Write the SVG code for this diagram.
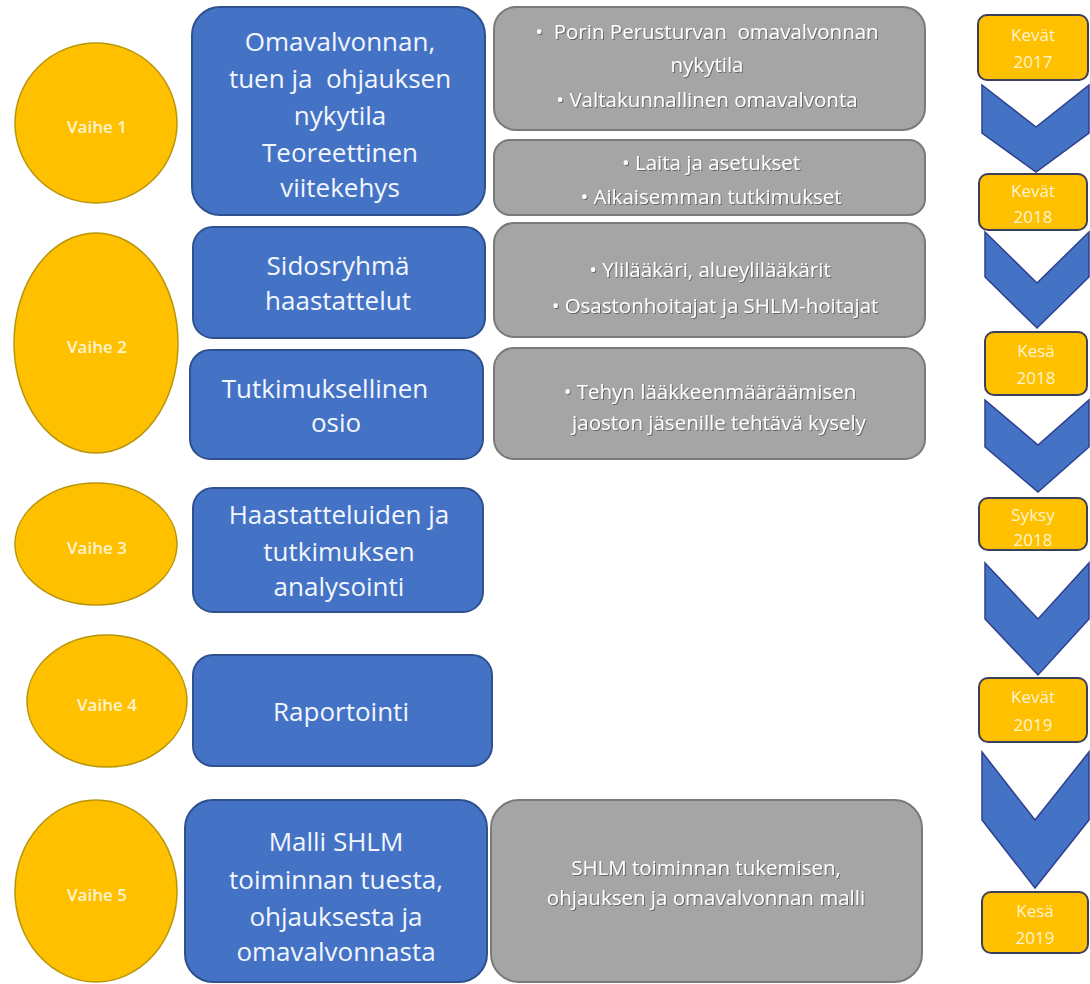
<svg xmlns="http://www.w3.org/2000/svg" width="1090" height="984" viewBox="0 0 1090 984">
<defs>
<style>
.circ{fill:#FFC000;stroke:#B8960A;stroke-width:1.5}
.ctxt{font-family:"Open Sans","Liberation Sans",sans-serif;font-size:17px;font-weight:600;fill:#FFF4D0;text-anchor:middle}
.blue{fill:#4472C4;stroke:#2F528F;stroke-width:2}
.btxt{font-family:"Open Sans","Liberation Sans",sans-serif;font-size:26px;fill:#F2F6FF;text-anchor:middle}
.gray{fill:#A5A5A5;stroke:#7A7A7A;stroke-width:2}
.gtxt{font-family:"Open Sans","Liberation Sans",sans-serif;font-size:20.5px;fill:#FFFFFF;text-anchor:middle;filter:url(#sh)}
.tl{fill:#FFC000;stroke:#3A3F5C;stroke-width:2}
.ttxt{font-family:"Open Sans","Liberation Sans",sans-serif;font-size:17px;fill:#FFF4D0;text-anchor:middle}
.chev{fill:#4472C4;stroke:#2F3F8F;stroke-width:1.5}
</style>
<filter id="sh" x="-5%" y="-20%" width="110%" height="140%"><feDropShadow dx="1" dy="1" stdDeviation="0.6" flood-color="#555" flood-opacity="0.8"/></filter>
</defs>
<rect width="1090" height="984" fill="#FFFFFF"/>

<g id="vaihe1"><ellipse class="circ" cx="96" cy="123" rx="81" ry="80"/><text class="ctxt" x="97" y="133">Vaihe 1</text></g>
<g id="vaihe2"><ellipse class="circ" cx="96" cy="343" rx="82" ry="110"/><text class="ctxt" x="97" y="353">Vaihe 2</text></g>
<g id="vaihe3"><ellipse class="circ" cx="96" cy="544" rx="81" ry="61"/><text class="ctxt" x="97" y="554">Vaihe 3</text></g>
<g id="vaihe4"><ellipse class="circ" cx="107" cy="701" rx="80" ry="66"/><text class="ctxt" x="107" y="711">Vaihe 4</text></g>
<g id="vaihe5"><ellipse class="circ" cx="96" cy="891" rx="81" ry="91"/><text class="ctxt" x="97" y="901">Vaihe 5</text></g>

<g id="box1"><rect class="blue" x="192" y="7" width="293" height="208" rx="28"/>
<text class="btxt" x="340" y="51">Omavalvonnan,</text>
<text class="btxt" x="340" y="88" xml:space="preserve">tuen ja  ohjauksen</text>
<text class="btxt" x="340" y="125">nykytila</text>
<text class="btxt" x="340" y="162">Teoreettinen</text>
<text class="btxt" x="340" y="197">viitekehys</text></g>
<g id="box2"><rect class="blue" x="193" y="227" width="292" height="111" rx="20"/>
<text class="btxt" x="338" y="275">Sidosryhmä</text>
<text class="btxt" x="338" y="310">haastattelut</text></g>
<g id="box3"><rect class="blue" x="190" y="350" width="293" height="109" rx="20"/>
<text class="btxt" x="325" y="398">Tutkimuksellinen</text>
<text class="btxt" x="336" y="432">osio</text></g>
<g id="box4"><rect class="blue" x="193" y="488" width="290" height="124" rx="20"/>
<text class="btxt" x="339" y="524">Haastatteluiden ja</text>
<text class="btxt" x="339" y="561">tutkimuksen</text>
<text class="btxt" x="339" y="596">analysointi</text></g>
<g id="box5"><rect class="blue" x="193" y="655" width="299" height="111" rx="20"/>
<text class="btxt" x="341" y="721">Raportointi</text></g>
<g id="box6"><rect class="blue" x="185" y="800" width="302" height="182" rx="28"/>
<text class="btxt" x="336" y="851">Malli SHLM</text>
<text class="btxt" x="336" y="889">toiminnan tuesta,</text>
<text class="btxt" x="336" y="926">ohjauksesta ja</text>
<text class="btxt" x="336" y="961">omavalvonnasta</text></g>

<g id="info1"><rect class="gray" x="494" y="7" width="431" height="123" rx="22"/>
<text class="gtxt" x="707" y="39" xml:space="preserve">•  Porin Perusturvan  omavalvonnan</text>
<text class="gtxt" x="707" y="72">nykytila</text>
<text class="gtxt" x="707" y="107">•  Valtakunnallinen omavalvonta</text></g>
<g id="info2"><rect class="gray" x="494" y="140" width="431" height="75" rx="16"/>
<text class="gtxt" x="711" y="170">•  Laita ja asetukset</text>
<text class="gtxt" x="711" y="204">•  Aikaisemman tutkimukset</text></g>
<g id="info3"><rect class="gray" x="494" y="223" width="431" height="114" rx="20"/>
<text class="gtxt" x="710" y="277">•  Ylilääkäri, alueylilääkärit</text>
<text class="gtxt" x="715" y="313">•  Osastonhoitajat ja SHLM-hoitajat</text></g>
<g id="info4"><rect class="gray" x="494" y="348" width="431" height="111" rx="20"/>
<text class="gtxt" x="710" y="399">•  Tehyn lääkkeenmääräämisen</text>
<text class="gtxt" x="719" y="430">jaoston jäsenille tehtävä kysely</text></g>
<g id="info5"><rect class="gray" x="491" y="800" width="431" height="182" rx="28"/>
<text class="gtxt" x="706" y="875">SHLM toiminnan tukemisen,</text>
<text class="gtxt" x="706" y="905">ohjauksen ja omavalvonnan malli</text></g>

<g id="connectors">
<polygon class="chev" points="982,85 1036,127 1089,85 1089,133 1036,172 982,133"/>
<polygon class="chev" points="985,232 1037,283 1089,232 1089,277 1037,328 985,277"/>
<polygon class="chev" points="985,400 1038,445 1089,400 1089,447 1038,492 985,447"/>
<polygon class="chev" points="985,563 1038,619 1089,563 1089,619 1038,675 985,619"/>
<polygon class="chev" points="982,752 1035,820 1089,752 1089,820 1035,888 982,820"/>
</g>

<g id="t1"><rect class="tl" x="978" y="15" width="110" height="65" rx="9"/><text class="ttxt" x="1033" y="41">Kevät</text><text class="ttxt" x="1033" y="68">2017</text></g>
<g id="t2"><rect class="tl" x="979" y="174" width="108" height="56" rx="9"/><text class="ttxt" x="1033" y="197">Kevät</text><text class="ttxt" x="1033" y="223">2018</text></g>
<g id="t3"><rect class="tl" x="985" y="332" width="102" height="63" rx="9"/><text class="ttxt" x="1036" y="357">Kesä</text><text class="ttxt" x="1036" y="384">2018</text></g>
<g id="t4"><rect class="tl" x="979" y="498" width="108" height="52" rx="9"/><text class="ttxt" x="1033" y="521">Syksy</text><text class="ttxt" x="1033" y="546">2018</text></g>
<g id="t5"><rect class="tl" x="979" y="678" width="108" height="64" rx="9"/><text class="ttxt" x="1033" y="703">Kevät</text><text class="ttxt" x="1033" y="731">2019</text></g>
<g id="t6"><rect class="tl" x="982" y="892" width="106" height="61" rx="9"/><text class="ttxt" x="1035" y="917">Kesä</text><text class="ttxt" x="1035" y="944">2019</text></g>
</svg>
